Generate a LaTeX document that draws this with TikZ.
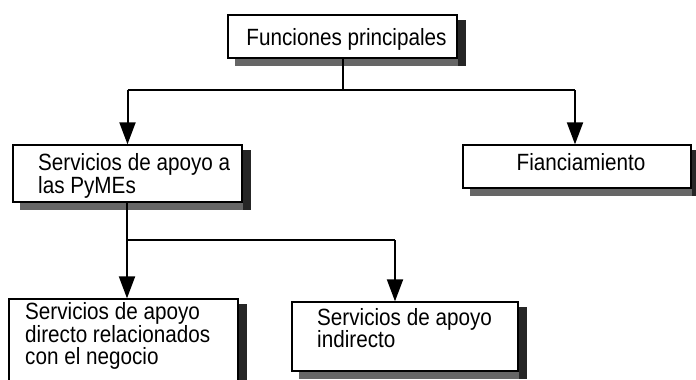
\documentclass[tikz,border=0pt]{standalone}
\usepackage{fontspec}
\setmainfont{Liberation Sans}[FakeStretch=0.88]
\usetikzlibrary{arrows.meta,backgrounds}
\begin{document}
\begin{tikzpicture}[x=1pt,y=-1pt,
  box/.style={draw,line width=1.3pt,fill=white,inner sep=0pt},
  shadowright/.style={fill=black!85},
  shadowbottom/.style={fill=black!60},
  txt/.style={font=\fontsize{23.5}{22.5}\selectfont,align=left,inner sep=0pt},
  conn/.style={line width=2pt},
  arr/.style={conn,-{Triangle[length=22pt,width=16pt]}}]
\useasboundingbox (0,0) rectangle (696,380);
% boxes
\node[box,minimum width=229pt,minimum height=43pt] (A) at (342.5,36.5) {};
\node[box,minimum width=229pt,minimum height=57pt] (B) at (127.5,173.5) {};
\node[box,minimum width=228pt,minimum height=43pt] (C) at (577,166.5) {};
\node[box,minimum width=229pt,minimum height=95pt] (D) at (123.5,346.5) {};
\node[box,minimum width=226pt,minimum height=69pt] (E) at (405,336.5) {};
\begin{scope}[on background layer]
  \foreach \n in {A,B,C,D,E}{
    \fill[shadowbottom] ([shift={(8,0)}]\n.south west) rectangle ([shift={(8,7)}]\n.south east);
    \fill[shadowright] ([shift={(0,6)}]\n.north east) rectangle ([shift={(8,7)}]\n.south east);
  }
\end{scope}
% texts
\node[txt,anchor=base] (tA) at (346.5,45) {Funciones principales};
\node[txt,anchor=base] (tC) at (581,170) {Fianciamiento};
\node[txt,anchor=west] (tB) at (38,176) {Servicios de apoyo a\\las PyMEs};
\node[txt,anchor=west] (tD) at (25,336) {Servicios de apoyo\\directo relacionados\\con el negocio};
\node[txt,anchor=west] (tE) at (317,328) {Servicios de apoyo\\indirecto};
% connectors
\draw[conn] (A.south) -- ++(0,32) coordinate (j1);
\coordinate (b1) at (127.5,90);
\coordinate (c1) at (575,90);
\draw[conn] (b1) -- (c1);
\draw[arr] (b1) -- (b1 |- B.north);
\draw[arr] (c1) -- (c1 |- C.north);
\coordinate (j2) at (127,240);
\coordinate (e1) at (395,240);
\draw[conn] (j2 |- B.south) -- (j2) -- (e1);
\draw[arr] (j2) -- (j2 |- D.north);
\draw[arr] (e1) -- (e1 |- E.north);
\end{tikzpicture}
\end{document}
